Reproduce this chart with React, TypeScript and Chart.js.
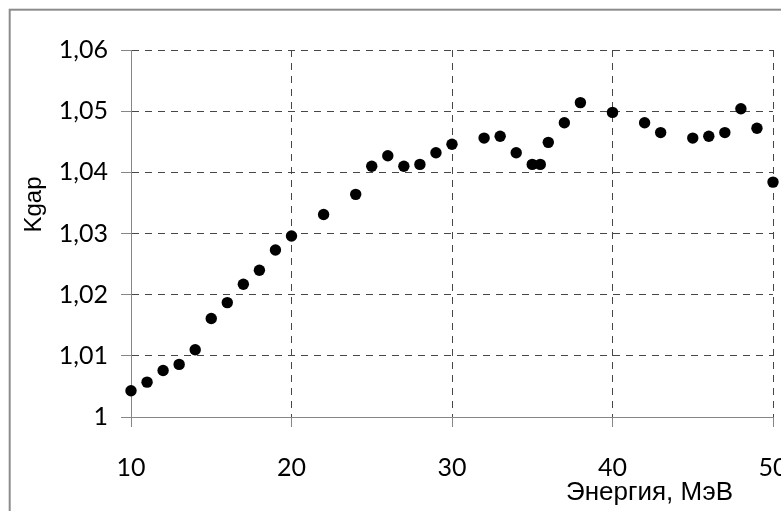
import React, { useEffect, useRef } from "react";
import { Chart, registerables } from "chart.js";

Chart.register(...registerables);

const energy = [10, 11, 12, 13, 14, 15, 16, 17, 18, 19, 20, 22, 24, 25, 26, 27, 28, 29, 30, 32, 33, 34, 35, 35.5, 36, 37, 38, 40, 42, 43, 45, 46, 47, 48, 49, 50];
const kgap = [1.0043, 1.0057, 1.0076, 1.0086, 1.011, 1.0161, 1.0187, 1.0217, 1.024, 1.0273, 1.0296, 1.0331, 1.0364, 1.041, 1.0427, 1.041, 1.0413, 1.0432, 1.0446, 1.0456, 1.0459, 1.0432, 1.0413, 1.0413, 1.0449, 1.0481, 1.0514, 1.0498, 1.0481, 1.0465, 1.0456, 1.0459, 1.0465, 1.0504, 1.0472, 1.0384];

const xTicks = [10, 20, 30, 40, 50];
const xTickLabels = ["10", "20", "30", "40", "50"];
const yTicks = [1, 1.01, 1.02, 1.03, 1.04, 1.05, 1.06];
const yTickLabels = ["1", "1,01", "1,02", "1,03", "1,04", "1,05", "1,06"];

const xTitle = "Энергия, МэВ";
const yTitle = "Kgap";

const CW = 830;
const CH = 540;

export default function App() {
  const ref = useRef<HTMLCanvasElement | null>(null);

  useEffect(() => {
    if (!ref.current) return;
    const framePlugin = {
      id: "frame",
      beforeDraw(chart: any) {
        const ctx = chart.ctx;
        ctx.save();
        ctx.fillStyle = "#ffffff";
        ctx.fillRect(0, 0, chart.width, chart.height);
        ctx.strokeStyle = "#8c8c8c";
        ctx.lineWidth = 2;
        ctx.strokeRect(9.7, 9.7, 1000, 1000);
        ctx.restore();
      },
      afterDraw(chart: any) {
        const ctx = chart.ctx;
        ctx.save();
        ctx.fillStyle = "#000000";
        ctx.font = "26px 'Liberation Sans', Arial, sans-serif";
        ctx.textAlign = "center";
        ctx.textBaseline = "alphabetic";
        ctx.fillText(xTitle, 649.5, 500);
        ctx.translate(34, 204.5);
        ctx.rotate(-Math.PI / 2);
        ctx.font = "24px 'Liberation Sans', Arial, sans-serif";
        ctx.textBaseline = "middle";
        ctx.fillText(yTitle, 0, 0);
        ctx.restore();
      },
    };

    const gridDark = "#474747";
    const axisGray = "#868686";
    const tickFont = { family: "Lato", size: 25 };

    const chart = new Chart(ref.current, {
      type: "scatter",
      data: {
        datasets: [
          {
            data: energy.map((x, i) => ({ x, y: kgap[i] })),
            backgroundColor: "#000000",
            borderColor: "#000000",
            pointRadius: 5.7,
            pointBorderWidth: 0,
            clip: false as any,
          },
        ],
      },
      options: {
        animation: false,
        responsive: false,
        layout: { padding: { left: 0, top: 50, right: CW - 773, bottom: 0 } },
        plugins: { legend: { display: false }, tooltip: { enabled: false } },
        scales: {
          x: {
            type: "linear",
            position: "bottom",
            min: 10,
            max: 50,
            afterBuildTicks: (axis: any) => {
              axis.ticks = xTicks.map((v) => ({ value: v }));
            },
            afterFit: (axis: any) => {
              axis.height = CH - 417;
            },
            ticks: {
              callback: (_v: any, i: number) => xTickLabels[i],
              font: tickFont,
              color: "#000000",
              padding: 26,
              maxRotation: 0,
              autoSkip: false,
            },
            grid: {
              color: (ctx: any) => (ctx.tick && ctx.tick.value === 10 ? "rgba(0,0,0,0)" : gridDark),
              lineWidth: 1,
              tickLength: 10,
              tickColor: axisGray,
              tickWidth: 1,
            },
            border: { display: true, color: axisGray, width: 1, dash: [7, 6] },
          },
          y: {
            type: "linear",
            min: 1,
            max: 1.06,
            afterBuildTicks: (axis: any) => {
              axis.ticks = yTicks.map((v) => ({ value: v }));
            },
            afterFit: (axis: any) => {
              axis.width = 131;
            },
            ticks: {
              callback: (_v: any, i: number) => yTickLabels[i],
              font: tickFont,
              color: "#000000",
              padding: 13,
              autoSkip: false,
            },
            grid: {
              color: (ctx: any) => (ctx.tick && ctx.tick.value === 1 ? "rgba(0,0,0,0)" : gridDark),
              lineWidth: 1,
              tickLength: 10,
              tickColor: axisGray,
              tickWidth: 1,
            },
            border: { display: true, color: axisGray, width: 1, dash: [7, 6] },
          },
        },
      },
      plugins: [framePlugin],
    });
    return () => chart.destroy();
  }, []);

  return (
    <div style={{ position: "fixed", left: 0, top: 0, width: 781, height: 511, overflow: "hidden", background: "#fff" }}>
      <canvas ref={ref} width={CW} height={CH} style={{ display: "block" }} />
    </div>
  );
}
